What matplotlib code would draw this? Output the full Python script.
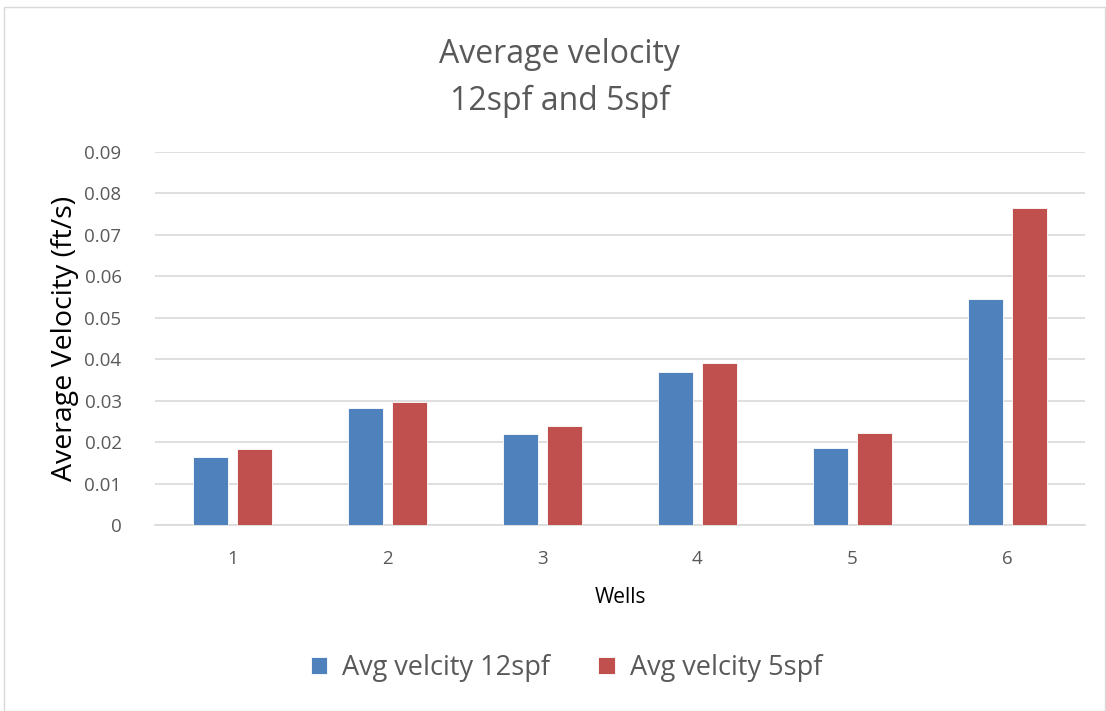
import matplotlib.pyplot as plt
import numpy as np
from matplotlib.patches import Rectangle

wells = ["1", "2", "3", "4", "5", "6"]
avg_12spf = [0.0164, 0.0283, 0.0220, 0.0369, 0.0185, 0.0545]
avg_5spf = [0.0184, 0.0298, 0.0240, 0.0392, 0.0223, 0.0765]
y_ticks = [0, 0.01, 0.02, 0.03, 0.04, 0.05, 0.06, 0.07, 0.08, 0.09]

BLUE = "#4F81BD"
RED = "#C0504D"
GREY_TEXT = "#595959"
GRID = "#D9D9D9"

plt.rcParams["font.family"] = ["Open Sans", "DejaVu Sans"]

fig = plt.figure(figsize=(11.06, 7.11), dpi=100)
fig.patches.append(Rectangle((0.004, 0.0), 0.995, 0.99, transform=fig.transFigure,
                             fill=False, edgecolor="#D9D9D9", linewidth=1.0))
ax = fig.add_axes([0.1401, 0.2616, 0.8409, 0.5246])

x = np.arange(len(wells)) + 1
w = 0.225
off = 0.1415
ax.bar(x - off, avg_12spf, width=w, color=BLUE, edgecolor="white", linewidth=0.6,
       label="Avg velcity 12spf", zorder=3)
ax.bar(x + off, avg_5spf, width=w, color=RED, edgecolor="white", linewidth=0.6,
       label="Avg velcity 5spf", zorder=3)

ax.set_xlim(0.5, 6.5)
ax.set_ylim(0, 0.09)
ax.set_yticks(y_ticks)
ax.set_yticklabels(["0" if v == 0 else f"{v:.2f}" for v in y_ticks])
ax.set_xticks(x)
ax.set_xticklabels(wells)
ax.tick_params(axis="both", length=0, labelsize=13.5, labelcolor=GREY_TEXT)
ax.tick_params(axis="y", pad=24)
ax.tick_params(axis="x", pad=18)
ax.grid(axis="y", color=GRID, linewidth=1.2, zorder=0)
for s in ["top", "right", "left"]:
    ax.spines[s].set_visible(False)
ax.spines["bottom"].set_color(GRID)
ax.spines["bottom"].set_linewidth(1.2)

ax.set_ylabel("Average Velocity (ft/s)", fontsize=20.5, color="black", labelpad=4)
ax.set_xlabel("Wells", fontsize=15, color="black", labelpad=14)

fig.text(0.506, 0.924, "Average velocity", ha="center", va="center",
         fontsize=23, color=GREY_TEXT)
fig.text(0.506, 0.858, "12spf and 5spf", ha="center", va="center",
         fontsize=23, color=GREY_TEXT)

fig.legend(loc="center", bbox_to_anchor=(0.512, 0.06), ncol=2, frameon=False,
           fontsize=19.5, labelcolor=GREY_TEXT, handlelength=0.6, handleheight=0.6,
           handletextpad=0.55, columnspacing=1.8)

fig.savefig("out.png", dpi=100, facecolor="white")
